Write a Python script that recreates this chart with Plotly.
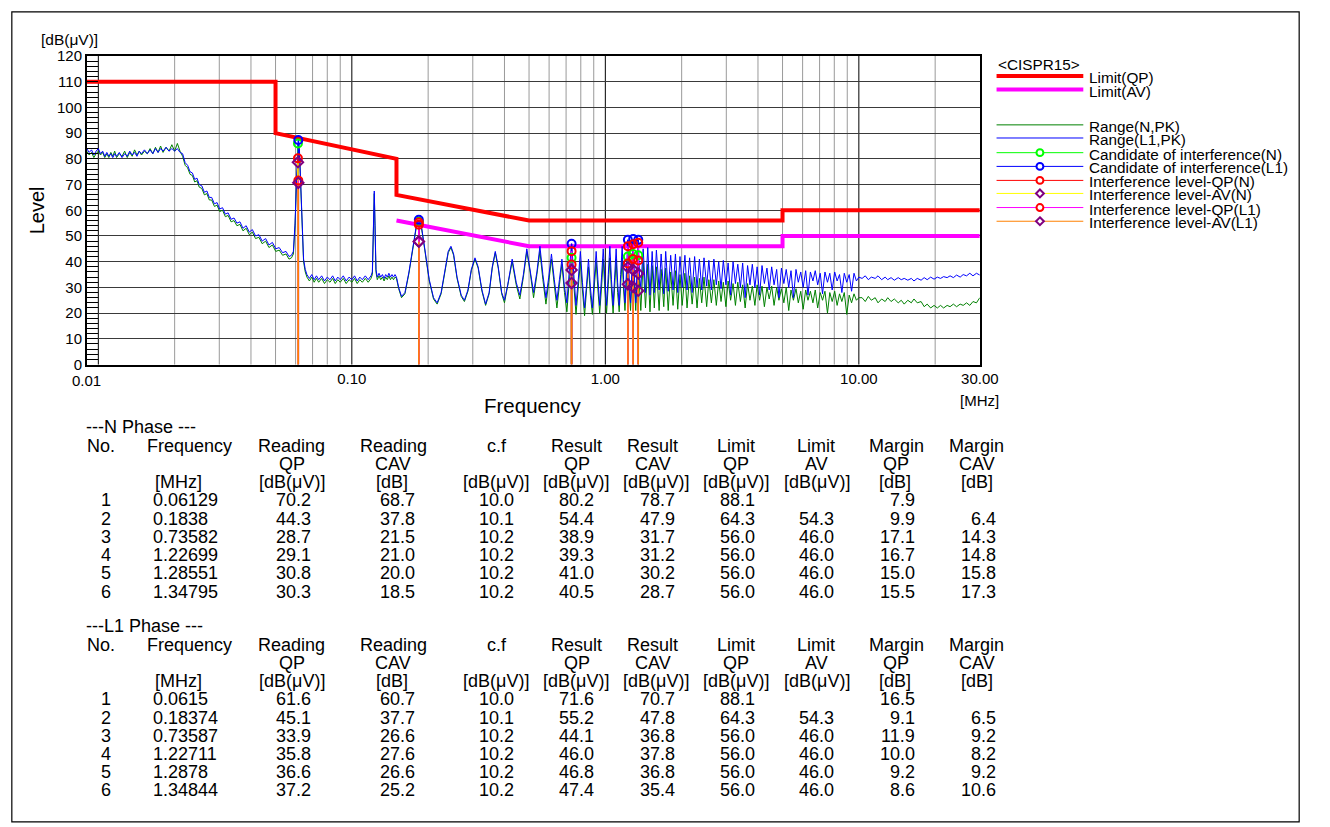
import math
import plotly.graph_objects as go

W, H = 1330, 827
FONT = "Liberation Sans, Arial, Helvetica, sans-serif"


def PX(x):
    return x / W


def PY(y):
    return 1 - y / H


# ---------------- limits (CISPR15) ----------------
qp_limit_freq = [0.009, 0.05, 0.05, 0.15, 0.15, 0.5, 5.0, 5.0, 30.0]
qp_limit_level = [110, 110, 90, 80, 66, 56, 56, 60, 60]
av_limit_freq = [0.15, 0.5, 5.0, 5.0, 30.0]
av_limit_level = [56, 46, 46, 50, 50]

# ---------------- spectrum traces ----------------
low_freq = [0.0090, 0.0092, 0.0094, 0.0096, 0.0098,
            0.0100, 0.0102, 0.0104, 0.0106, 0.0108, 0.0110, 0.0112, 0.0114, 0.0116, 0.0118,
            0.0121, 0.0124, 0.0127, 0.0130, 0.0133, 0.0136, 0.0139, 0.0142, 0.0145, 0.0148,
            0.0152, 0.0156, 0.0160, 0.0164, 0.0168, 0.0172, 0.0176, 0.0180, 0.0185, 0.0190,
            0.0195, 0.0200, 0.0205, 0.0210, 0.0215, 0.0220, 0.0225, 0.0230, 0.0235, 0.0240,
            0.0245, 0.0250, 0.0256, 0.0262, 0.0268, 0.0274, 0.0280, 0.0287, 0.0294, 0.0301,
            0.0309, 0.0317, 0.0325, 0.0334, 0.0343, 0.0352, 0.0362, 0.0372, 0.0383, 0.0394,
            0.0405, 0.0417, 0.0430, 0.0443, 0.0457, 0.0471, 0.0486, 0.0501, 0.0517, 0.0533,
            0.0550, 0.0565, 0.0578, 0.0588, 0.0597, 0.0605, 0.0612, 0.0616, 0.0621, 0.0628,
            0.0636, 0.0645, 0.0655]
l1_low = [84, 82.5, 83.5, 81.5, 83,
          84, 82, 83, 81, 82.5, 81, 82, 80.5, 82, 81,
          82.5, 80.5, 82, 81, 83, 81.5, 82.5, 81, 83, 82,
          83.5, 82, 83.5, 82, 84, 82.5, 84, 83, 84.5, 83,
          84, 83, 84, 82.5, 82, 78.5, 77.5, 75, 74.5, 72,
          72.5, 70, 69.5, 67, 67.5, 65, 65, 62.5, 63, 60.5,
          61, 58.5, 59, 56.5, 57, 55, 55.5, 53, 54, 51.5,
          52.5, 50, 50.5, 48, 49, 46.5, 47.5, 45, 45.5, 43.5,
          44, 42, 42.5, 44, 55, 72, 85, 87.3, 84, 70,
          52, 41, 37]
n_low = [83, 81.5, 82.5, 80.5, 82,
         83, 81.5, 82.5, 80.5, 82, 80.5, 82.5, 81, 83, 80.5,
         82, 81, 83, 80.5, 82.5, 81, 83.5, 81.5, 83, 81.5,
         83, 82, 84, 82, 84.5, 82.5, 85, 82.5, 84.5, 83,
         85.5, 83, 86, 83, 81, 77.5, 76.5, 74, 73.5, 71,
         71.5, 69, 68.5, 66, 66.5, 64, 64, 61.5, 62, 59.5,
         60, 57.5, 58, 55.5, 56, 54, 54.5, 52, 53, 50.5,
         51.5, 49, 49.5, 47, 48, 45.5, 46.5, 44, 44.5, 42.5,
         43, 41, 41.5, 43, 54, 71, 84, 86, 83, 69,
         51, 40, 36]

mid_freq = [0.0665, 0.0680, 0.0695, 0.0710, 0.0725, 0.0740, 0.0760, 0.0780, 0.0800, 0.0820,
            0.0840, 0.0860, 0.0880, 0.0900, 0.0925, 0.0950, 0.0975, 0.1000, 0.1025, 0.1050,
            0.1075, 0.1100, 0.1130, 0.1160, 0.1190, 0.1205, 0.1218, 0.1226, 0.1234, 0.1245,
            0.1260, 0.1280, 0.1300, 0.1320, 0.1340, 0.1360, 0.1380, 0.1400, 0.1420, 0.1440,
            0.1460, 0.1480]
l1_mid = [35, 33.5, 35, 33, 34.5, 33, 34.5, 32.5, 34, 33,
          34.5, 32.5, 34, 33, 34.5, 32.5, 34, 33, 34.5, 32.5,
          34, 33, 34.5, 33, 34.5, 36, 55, 67.5, 55, 37,
          34, 35.5, 34, 35, 33.5, 35, 34, 35.5, 34, 35,
          34, 35]
n_mid = [34, 32.5, 34, 32, 33.5, 32, 33.5, 31.5, 33, 32,
         33.5, 31.5, 33, 32, 33.5, 31.5, 33, 32, 33.5, 31.5,
         33, 32, 33.5, 32, 33.5, 35, 54, 66.5, 54, 36,
         33, 34.5, 33, 34, 32.5, 34, 33, 34.5, 33, 34,
         33, 34]

comb_freq = [0.150, 0.153, 0.157, 0.162, 0.168, 0.175, 0.180, 0.184, 0.188, 0.194,
             0.202, 0.210, 0.217, 0.225, 0.233, 0.240, 0.246, 0.252, 0.260, 0.270,
             0.278, 0.287, 0.296, 0.306, 0.315, 0.326, 0.337, 0.348, 0.358, 0.368,
             0.378, 0.390, 0.400, 0.412, 0.429, 0.445, 0.460, 0.475, 0.490, 0.505,
             0.521, 0.537, 0.552, 0.567, 0.583, 0.598, 0.613, 0.629, 0.644, 0.659,
             0.674, 0.690, 0.705, 0.720, 0.736, 0.751, 0.766, 0.782, 0.797, 0.812,
             0.828, 0.843, 0.858, 0.873, 0.889, 0.904, 0.920, 0.935, 0.950, 0.966,
             0.981, 0.996, 1.011, 1.027, 1.042, 1.057, 1.073, 1.088, 1.103, 1.118,
             1.134, 1.149, 1.165, 1.180, 1.195, 1.211, 1.226, 1.241, 1.257, 1.272,
             1.287, 1.303, 1.318, 1.333, 1.349, 1.364]
l1_comb = [34, 30, 26.5, 28, 36, 48, 54.5, 56, 54, 45,
           33, 26, 24, 28, 37, 44, 46, 43, 34, 27,
           25, 29, 37, 41.5, 38, 29, 23.5, 28, 38, 44,
           38, 28, 25, 31, 41, 32, 27, 35, 45, 37,
           28, 36, 46, 35, 26, 34, 43, 33, 25, 33,
           41, 30, 24, 36, 47, 35, 23, 33, 44, 32,
           22, 31, 41, 30, 22, 33, 44, 33, 23, 34,
           45, 33, 23, 35, 46, 33, 23, 34, 45, 32,
           23, 35, 46, 33, 24, 36, 48.5, 34, 24, 36,
           48.8, 34, 24, 36, 48.5, 34]
n_comb = [33.5, 29.5, 26, 27.5, 35.5, 47.5, 54, 55.5, 53.5, 44.5,
          32.5, 25.5, 23.5, 27.5, 36.5, 43.5, 45.5, 42.5, 33.5, 26.5,
          24.5, 28.5, 36.5, 41, 37.5, 28.5, 23, 27.5, 37.5, 43.5,
          37.5, 27.5, 24, 30.5, 40, 31, 25.5, 34, 44, 36,
          26, 35, 44, 33, 23.5, 32, 41, 31, 22, 31,
          39, 28, 20.5, 32, 41.5, 31, 19.5, 30, 40, 29,
          19, 29, 38, 27, 19.5, 30, 40, 29, 20, 30,
          41, 29, 20, 31, 41.5, 29, 20, 30, 41, 28,
          20.5, 31, 41.5, 29, 21, 32, 42, 30, 21, 32,
          43, 30, 21, 32, 42.5, 30]

band_freq = [1.38, 1.41, 1.44, 1.47, 1.50, 1.53, 1.56, 1.59, 1.63, 1.66,
             1.70, 1.73, 1.77, 1.81, 1.85, 1.89, 1.93, 1.97, 2.01, 2.06,
             2.10, 2.15, 2.20, 2.25, 2.30, 2.35, 2.40, 2.45, 2.51, 2.56,
             2.62, 2.68, 2.74, 2.80, 2.86, 2.92, 2.99, 3.05, 3.12, 3.19,
             3.26, 3.33, 3.41, 3.48, 3.56, 3.64, 3.72, 3.80, 3.89, 3.97,
             4.06, 4.15, 4.24, 4.34, 4.43, 4.53, 4.63, 4.74, 4.84, 4.95,
             5.06, 5.17, 5.29, 5.40, 5.52, 5.65, 5.77, 5.90, 6.03, 6.17,
             6.30, 6.44, 6.59, 6.73, 6.88, 7.04, 7.19, 7.35, 7.52, 7.68,
             7.85, 8.03, 8.21, 8.39, 8.57, 8.76, 8.96, 9.16, 9.36, 9.57,
             9.78, 10.0]
l1_band = [30, 45, 28, 45.5, 27, 44, 28, 44.5, 29, 43,
           27.5, 44, 28.5, 42.5, 29, 43, 28, 42, 30, 42.5,
           29, 41.5, 28, 42, 30, 41, 29, 41.5, 30.5, 40.5,
           29, 41, 31, 40, 29.5, 40.5, 31, 39.5, 27, 40,
           31.5, 39, 30, 39.5, 26, 38.5, 31, 39, 30, 38,
           27, 38.5, 31.5, 37.5, 29, 38, 31, 37, 26, 37.5,
           31.5, 37, 30, 36.5, 26, 37, 32, 36, 30, 36.5,
           27, 36, 32.5, 36.5, 31, 35.5, 27.5, 36, 32, 35.5,
           29, 36, 32.5, 35, 28, 35.5, 32, 35, 28.5, 35.5,
           32.5, 34]
n_band = [21, 40, 22, 39, 20.5, 38.5, 22, 38, 21, 37,
          22.5, 37.5, 21, 36, 23, 36.5, 21.5, 35, 23, 35.5,
          22, 34.5, 23.5, 34, 22, 33.5, 24, 34, 22.5, 33,
          24, 33, 23, 32.5, 24.5, 32, 22.5, 32.5, 25, 31.5,
          23, 32, 24.5, 31, 22, 31.5, 25, 30.5, 23, 31,
          25, 30.5, 22.5, 30, 25.5, 30.5, 23, 30, 25, 29.5,
          24, 30, 21, 29, 25, 29.5, 24, 28.5, 21.5, 29,
          25, 28.5, 24, 29, 22, 28, 25, 28.5, 20, 28,
          24.5, 28.5, 23, 27.5, 24.5, 28, 19.5, 27, 24, 27.5,
          25, 26]

high_freq = [10.3, 10.6, 10.9, 11.2, 11.6, 11.9, 12.3, 12.7, 13.0, 13.4,
             13.8, 14.3, 14.7, 15.1, 15.6, 16.1, 16.5, 17.0, 17.6, 18.1,
             18.6, 19.2, 19.8, 20.4, 21.0, 21.6, 22.3, 22.9, 23.6, 24.3,
             25.1, 25.8, 26.6, 27.4, 28.2, 29.1, 30.0]
l1_high = [33.5, 34.5, 33, 34, 33.5, 34.5, 33, 34, 33, 33.8,
           32.8, 33.8, 33, 33.5, 32.8, 33.5, 32.5, 33.5, 32.8, 33.8,
           33, 34, 33.2, 34, 33.5, 34.2, 33.8, 34.5, 33.8, 34.8,
           34, 35, 34.5, 35.5, 34.5, 35.5, 34.8]
n_high = [26, 24.5, 26.5, 25, 26, 24, 25.5, 24.5, 26, 24.5,
          25.5, 24, 25, 23.5, 25, 24, 25.5, 24, 24.5, 22.5,
          23.5, 22, 23, 22, 23, 22, 23, 22.5, 23.5, 22.5,
          23.5, 23, 24, 23, 24.5, 24, 26]

# ---------------- measured results ----------------
n_no = ["1", "2", "3", "4", "5", "6"]
n_freq = ["0.06129", "0.1838", "0.73582", "1.22699", "1.28551", "1.34795"]
n_read_qp = [70.2, 44.3, 28.7, 29.1, 30.8, 30.3]
n_read_cav = [68.7, 37.8, 21.5, 21.0, 20.0, 18.5]
n_cf = [10.0, 10.1, 10.2, 10.2, 10.2, 10.2]
n_res_qp = [80.2, 54.4, 38.9, 39.3, 41.0, 40.5]
n_res_cav = [78.7, 47.9, 31.7, 31.2, 30.2, 28.7]
n_lim_qp = [88.1, 64.3, 56.0, 56.0, 56.0, 56.0]
n_lim_av = [None, 54.3, 46.0, 46.0, 46.0, 46.0]
n_mar_qp = [7.9, 9.9, 17.1, 16.7, 15.0, 15.5]
n_mar_cav = [None, 6.4, 14.3, 14.8, 15.8, 17.3]
n_candidate = [86.0, 55.5, 41.5, 42.0, 43.0, 42.5]

l1_no = ["1", "2", "3", "4", "5", "6"]
l1_freq = ["0.0615", "0.18374", "0.73587", "1.22711", "1.2878", "1.34844"]
l1_read_qp = [61.6, 45.1, 33.9, 35.8, 36.6, 37.2]
l1_read_cav = [60.7, 37.7, 26.6, 27.6, 26.6, 25.2]
l1_cf = [10.0, 10.1, 10.2, 10.2, 10.2, 10.2]
l1_res_qp = [71.6, 55.2, 44.1, 46.0, 46.8, 47.4]
l1_res_cav = [70.7, 47.8, 36.8, 37.8, 36.8, 35.4]
l1_lim_qp = [88.1, 64.3, 56.0, 56.0, 56.0, 56.0]
l1_lim_av = [None, 54.3, 46.0, 46.0, 46.0, 46.0]
l1_mar_qp = [16.5, 9.1, 11.9, 10.0, 9.2, 8.6]
l1_mar_cav = [None, 6.5, 9.2, 8.2, 9.2, 10.6]
l1_candidate = [87.3, 56.3, 47.0, 48.5, 48.8, 48.5]

x_tick_vals = [0.1, 1, 10, 30]
x_tick_text = ["0.10", "1.00", "10.00", "30.00"]
x_major_grid = [0.01, 0.1, 1, 10]
x_minor_grid = [0.02, 0.03, 0.04, 0.05, 0.06, 0.07, 0.08, 0.09,
                0.2, 0.3, 0.4, 0.5, 0.6, 0.7, 0.8, 0.9,
                2, 3, 4, 5, 6, 7, 8, 9, 20]

for a, b in [(low_freq, l1_low), (low_freq, n_low), (mid_freq, l1_mid), (mid_freq, n_mid),
             (comb_freq, l1_comb), (comb_freq, n_comb), (band_freq, l1_band), (band_freq, n_band),
             (high_freq, l1_high), (high_freq, n_high)]:
    assert len(a) == len(b), (len(a), len(b))

spec_freq = low_freq + mid_freq + comb_freq + band_freq + high_freq
n_spec = n_low + n_mid + n_comb + n_band + n_high
l1_spec = l1_low + l1_mid + l1_comb + l1_band + l1_high

fig = go.Figure()

fig.add_trace(go.Scatter(x=qp_limit_freq, y=qp_limit_level, mode="lines",
                         line=dict(color="#FF0000", width=4), name="Limit(QP)"))
fig.add_trace(go.Scatter(x=av_limit_freq, y=av_limit_level, mode="lines",
                         line=dict(color="#FF00FF", width=4), name="Limit(AV)"))
fig.add_trace(go.Scatter(x=spec_freq, y=n_spec, mode="lines",
                         line=dict(color="#008000", width=1), name="Range(N,PK)"))
fig.add_trace(go.Scatter(x=spec_freq, y=l1_spec, mode="lines",
                         line=dict(color="#0000FF", width=1), name="Range(L1,PK)"))


def stems(freqs, levels):
    xs, ys = [], []
    for f, v in zip(freqs, levels):
        xs += [f, f, None]
        ys += [0, v, None]
    return xs, ys


nf = [float(s) for s in n_freq]
lf = [float(s) for s in l1_freq]
series = [
    ("Candidate of interference(N)", nf, n_candidate, "#00FF00", "circle-open", "#00FF00"),
    ("Candidate of interference(L1)", lf, l1_candidate, "#0000FF", "circle-open", "#0000FF"),
    ("Interference level-QP(N)", nf, n_res_qp, "#FF0000", "circle-open", "#FF0000"),
    ("Interference level-AV(N)", nf, n_res_cav, "#FFFF00", "diamond-open", "#800080"),
    ("Interference level-QP(L1)", lf, l1_res_qp, "#FF00FF", "circle-open", "#FF0000"),
    ("Interference level-AV(L1)", lf, l1_res_cav, "#FF8000", "diamond-open", "#800080"),
]
for name, fx, fy, lc, sym, mc in series:
    sx, sy = stems(fx, fy)
    fig.add_trace(go.Scatter(x=sx, y=sy, mode="lines", line=dict(color=lc, width=1.5),
                             name=name, hoverinfo="skip"))
for name, fx, fy, lc, sym, mc in series:
    fig.add_trace(go.Scatter(x=fx, y=fy, mode="markers", name=name,
                             marker=dict(symbol=sym, size=8, color=mc, line=dict(width=2, color=mc))))

shapes = []
annotations = []

# vertical grid lines (log axis: shape x in data values)
for gx in x_minor_grid:
    shapes.append(dict(type="line", xref="x", yref="paper", x0=gx, x1=gx, y0=PY(363), y1=PY(48),
                       line=dict(color="#9a9a9a", width=1), layer="below"))
for gx in x_major_grid:
    shapes.append(dict(type="line", xref="x", yref="paper", x0=gx, x1=gx, y0=PY(363), y1=PY(48),
                       line=dict(color="#000000", width=1), layer="below"))

# outer frame
shapes.append(dict(type="rect", xref="paper", yref="paper", x0=PX(12), x1=PX(1318),
                   y0=PY(830), y1=PY(3), line=dict(color="black", width=1.2)))

# axis texts
annotations.append(dict(text="[dB(\u03bcV)]", x=PX(70), y=PY(31), xref="paper", yref="paper",
                        showarrow=False, font=dict(size=15.5), xanchor="center", yanchor="middle"))
annotations.append(dict(text="Level", x=PX(37), y=PY(205), xref="paper", yref="paper", textangle=-90,
                        showarrow=False, font=dict(size=20), xanchor="center", yanchor="middle"))
annotations.append(dict(text="Frequency", x=PX(541), y=PY(405), xref="paper", yref="paper",
                        showarrow=False, font=dict(size=20.5), xanchor="center", yanchor="middle"))
annotations.append(dict(text="[MHz]", x=PX(994), y=PY(400), xref="paper", yref="paper",
                        showarrow=False, font=dict(size=15), xanchor="center", yanchor="middle"))
annotations.append(dict(text="0.01", x=math.log10(0.009), y=PY(379), xref="x", yref="paper",
                        showarrow=False, font=dict(size=15), xanchor="center", yanchor="middle"))

# ---------------- manual legend ----------------
LEG_FS = 15.3
annotations.append(dict(text="&lt;CISPR15&gt;", x=PX(1010), y=PY(57), xref="paper", yref="paper",
                        showarrow=False, font=dict(size=LEG_FS), xanchor="left", yanchor="middle"))
legend_items = [
    ("Limit(QP)", 68.3, "#FF0000", 4, None, None),
    ("Limit(AV)", 82.3, "#FF00FF", 4, None, None),
    ("Range(N,PK)", 118.3, "#008000", 1, None, None),
    ("Range(L1,PK)", 131.7, "#0000FF", 1, None, None),
    ("Candidate of interference(N)", 146.7, "#00FF00", 1, "circle", "#00FF00"),
    ("Candidate of interference(L1)", 160.7, "#0000FF", 1, "circle", "#0000FF"),
    ("Interference level-QP(N)", 175.0, "#FF0000", 1, "circle", "#FF0000"),
    ("Interference level-AV(N)", 188.3, "#FFFF00", 1, "diamond", "#800080"),
    ("Interference level-QP(L1)", 202.7, "#FF00FF", 1, "circle", "#FF0000"),
    ("Interference level-AV(L1)", 216.7, "#FF8000", 1, "diamond", "#800080"),
]
for text, ly, col, lw, msym, mcol in legend_items:
    shapes.append(dict(type="line", xref="paper", yref="paper", x0=PX(1011), x1=PX(1099),
                       y0=PY(ly), y1=PY(ly), line=dict(color=col, width=lw)))
    if msym == "circle":
        shapes.append(dict(type="circle", xref="paper", yref="paper", x0=PX(1051.5), x1=PX(1058.5),
                           y0=PY(ly + 3.5), y1=PY(ly - 3.5), line=dict(color=mcol, width=2),
                           fillcolor="white"))
    elif msym == "diamond":
        cx, r = 1055, 4
        path = "M {} {} L {} {} L {} {} L {} {} Z".format(PX(cx), PY(ly - r), PX(cx + r), PY(ly),
                                                          PX(cx), PY(ly + r), PX(cx - r), PY(ly))
        shapes.append(dict(type="path", xref="paper", yref="paper", path=path,
                           line=dict(color=mcol, width=2), fillcolor="white"))
    annotations.append(dict(text=text, x=PX(1103), y=PY(ly + 1.5), xref="paper", yref="paper",
                            showarrow=False, font=dict(size=LEG_FS), xanchor="left", yanchor="middle"))

# ---------------- tables ----------------
TAB_FS = 18
LINE = 18.6
hdr1 = [("No.", 86, "left"), ("Frequency", 192, "center"), ("Reading", 296, "center"),
        ("Reading", 399, "center"), ("c.f", 504, "center"), ("Result", 585, "center"),
        ("Result", 662, "center"), ("Limit", 747, "center"), ("Limit", 828, "center"),
        ("Margin", 909, "center"), ("Margin", 991, "center")]
hdr2 = [("QP", 296), ("CAV", 399), ("QP", 585), ("CAV", 662), ("QP", 747), ("AV", 828),
        ("QP", 909), ("CAV", 991)]
hdr3 = [("[MHz]", 181), ("[dB(\u03bcV)]", 296), ("[dB]", 398), ("[dB(\u03bcV)]", 503),
        ("[dB(\u03bcV)]", 584), ("[dB(\u03bcV)]", 665), ("[dB(\u03bcV)]", 747),
        ("[dB(\u03bcV)]", 829), ("[dB]", 908), ("[dB]", 991)]
num_right = [318, 423, 523, 605, 687, 768, 848, 930, 1012]


def ann(text, x, y, anchor):
    annotations.append(dict(text=text, x=PX(x), y=PY(y), xref="paper", yref="paper",
                            showarrow=False, font=dict(size=TAB_FS), xanchor=anchor,
                            yanchor="middle"))


def fmt(v):
    return "" if v is None else "{:.1f}".format(v)


def table(title, y0, no, freq, cols):
    ann(title, 85, y0, "left")
    for t, x, a in hdr1:
        ann(t, x, y0 + 19, a)
    for t, x in hdr2:
        ann(t, x, y0 + 19 + LINE, "center")
    for t, x in hdr3:
        ann(t, x, y0 + 19 + 2 * LINE, "center")
    for i in range(len(no)):
        yy = y0 + 19 + (3 + i) * LINE
        ann(no[i], 108, yy, "center")
        ann(freq[i], 153, yy, "left")
        for c, xr in zip(cols, num_right):
            s = fmt(c[i])
            if s:
                ann(s, xr, yy, "right")


table("---N Phase ---", 427, n_no, n_freq,
      [n_read_qp, n_read_cav, n_cf, n_res_qp, n_res_cav, n_lim_qp, n_lim_av, n_mar_qp, n_mar_cav])
table("---L1 Phase ---", 630, l1_no, l1_freq,
      [l1_read_qp, l1_read_cav, l1_cf, l1_res_qp, l1_res_cav, l1_lim_qp, l1_lim_av, l1_mar_qp,
       l1_mar_cav])

fig.update_layout(
    autosize=True,
    margin=dict(l=0, r=0, t=0, b=0),
    paper_bgcolor="white", plot_bgcolor="white",
    showlegend=False,
    font=dict(family=FONT, color="black", size=15),
    shapes=shapes,
    annotations=annotations,
    xaxis=dict(type="log", domain=[PX(88), PX(994)],
               range=[math.log10(0.009), math.log10(30)],
               tickmode="array", tickvals=x_tick_vals, ticktext=x_tick_text,
               ticks="", showgrid=False,
               showline=True, linecolor="black", linewidth=1.5, mirror=True,
               zeroline=False, tickfont=dict(size=15, color="black")),
    yaxis=dict(domain=[PY(363), PY(48)], range=[0, 120],
               tickmode="array", tickvals=list(range(0, 121, 10)),
               ticks="inside", ticklen=12, tickcolor="black", tickwidth=1,
               showgrid=True, gridcolor="#3a3a3a", gridwidth=1,
               minor=dict(dtick=2, ticks="inside", ticklen=12, tickcolor="black",
                          tickwidth=1, showgrid=False),
               showline=True, linecolor="black", linewidth=1.5, mirror=True,
               zeroline=False, tickfont=dict(size=15, color="black")),
)

fig.write_html(
    "out.html",
    config={"displayModeBar": False, "responsive": True},
    default_width="100vw",
    default_height="100vh",
    post_script=("document.documentElement.style.margin='0';document.body.style.margin='0';"
                 "document.body.style.padding='0';document.body.style.overflow='hidden';"
                 "document.documentElement.style.overflow='hidden';"),
)
